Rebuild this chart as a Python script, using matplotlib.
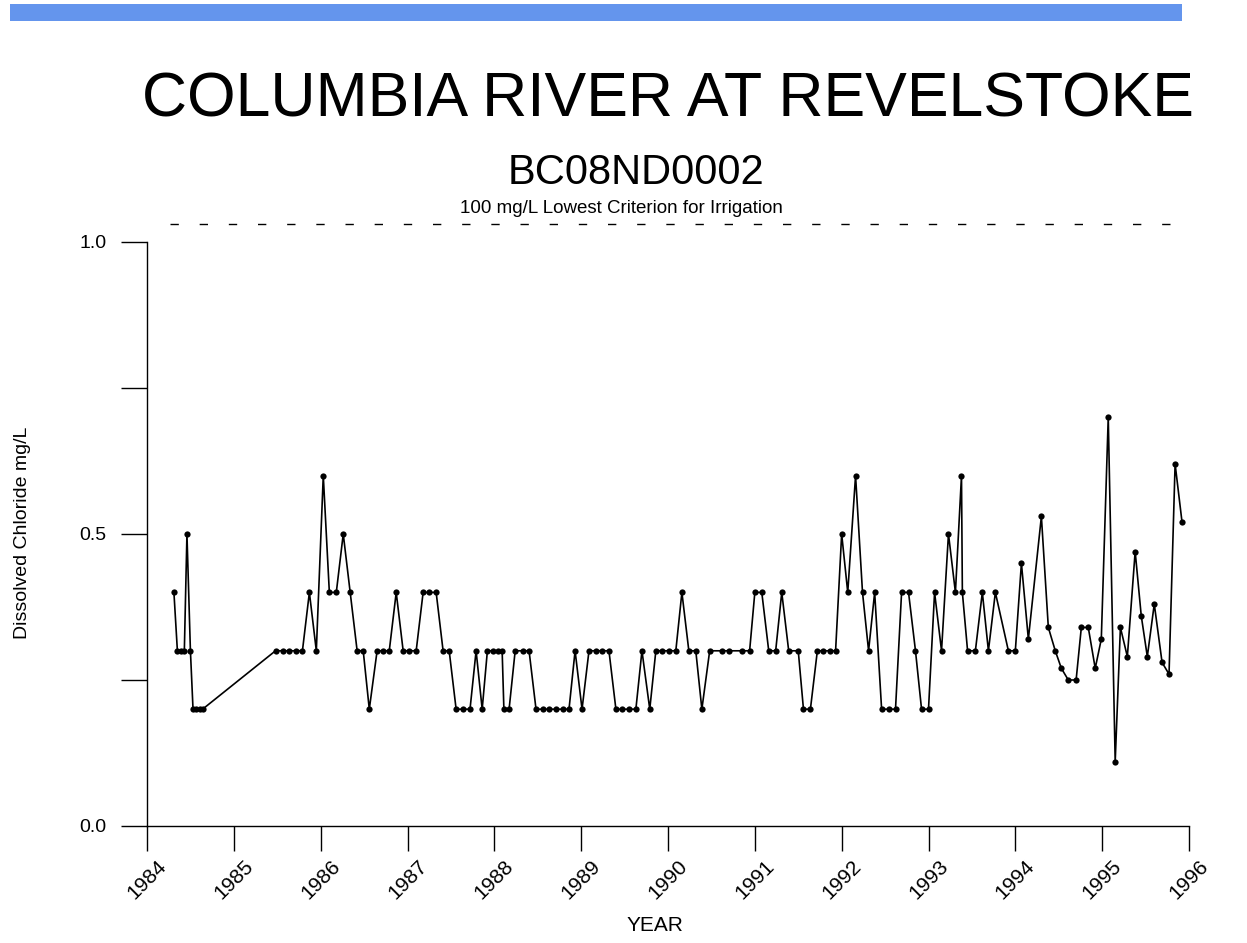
import matplotlib.pyplot as plt
from matplotlib.patches import Rectangle
from matplotlib.ticker import MultipleLocator

plt.rcParams["font.family"] = ["Liberation Sans", "DejaVu Sans"]

TITLE = "COLUMBIA RIVER AT REVELSTOKE"
STATION = "BC08ND0002"
CRITERION_TEXT = "100 mg/L Lowest Criterion for Irrigation"
CRITERION_LEVEL = 1.03

year = [
    1984.31, 1984.35, 1984.39, 1984.43, 1984.46, 1984.50, 1984.53, 1984.57, 1984.61, 1984.64,
    1985.48, 1985.57, 1985.64, 1985.72, 1985.79, 1985.87, 1985.95, 1986.03, 1986.10, 1986.18,
    1986.26, 1986.34, 1986.42, 1986.49, 1986.56, 1986.65, 1986.72, 1986.79, 1986.87, 1986.95,
    1987.02, 1987.10, 1987.18, 1987.25, 1987.33, 1987.41, 1987.48, 1987.56, 1987.64, 1987.72,
    1987.79, 1987.86, 1987.92, 1987.98, 1988.04, 1988.09, 1988.11, 1988.17, 1988.24, 1988.33,
    1988.40, 1988.48, 1988.56, 1988.63, 1988.71, 1988.79, 1988.86, 1988.93, 1989.01, 1989.09,
    1989.17, 1989.24, 1989.32, 1989.40, 1989.47, 1989.55, 1989.63, 1989.70, 1989.79, 1989.86,
    1989.93, 1990.01, 1990.09, 1990.16, 1990.24, 1990.32, 1990.39, 1990.48, 1990.62, 1990.70,
    1990.85, 1990.94, 1991.00, 1991.08, 1991.16, 1991.24, 1991.31, 1991.39, 1991.50, 1991.56,
    1991.64, 1991.72, 1991.79, 1991.86, 1991.93, 1992.00, 1992.07, 1992.16, 1992.24, 1992.31,
    1992.38, 1992.46, 1992.54, 1992.62, 1992.69, 1992.77, 1992.85, 1992.92, 1993.00, 1993.07,
    1993.15, 1993.23, 1993.31, 1993.38, 1993.39, 1993.45, 1993.54, 1993.62, 1993.69, 1993.77,
    1993.92, 1994.00, 1994.07, 1994.15, 1994.30, 1994.38, 1994.46, 1994.53, 1994.61, 1994.70,
    1994.76, 1994.84, 1994.92, 1994.99, 1995.07, 1995.15, 1995.21, 1995.29, 1995.38, 1995.45,
    1995.52, 1995.60, 1995.69, 1995.77, 1995.84, 1995.92,
]

chloride = [
    0.4, 0.3, 0.3, 0.3, 0.5, 0.3, 0.2, 0.2, 0.2, 0.2,
    0.3, 0.3, 0.3, 0.3, 0.3, 0.4, 0.3, 0.6, 0.4, 0.4,
    0.5, 0.4, 0.3, 0.3, 0.2, 0.3, 0.3, 0.3, 0.4, 0.3,
    0.3, 0.3, 0.4, 0.4, 0.4, 0.3, 0.3, 0.2, 0.2, 0.2,
    0.3, 0.2, 0.3, 0.3, 0.3, 0.3, 0.2, 0.2, 0.3, 0.3,
    0.3, 0.2, 0.2, 0.2, 0.2, 0.2, 0.2, 0.3, 0.2, 0.3,
    0.3, 0.3, 0.3, 0.2, 0.2, 0.2, 0.2, 0.3, 0.2, 0.3,
    0.3, 0.3, 0.3, 0.4, 0.3, 0.3, 0.2, 0.3, 0.3, 0.3,
    0.3, 0.3, 0.4, 0.4, 0.3, 0.3, 0.4, 0.3, 0.3, 0.2,
    0.2, 0.3, 0.3, 0.3, 0.3, 0.5, 0.4, 0.6, 0.4, 0.3,
    0.4, 0.2, 0.2, 0.2, 0.4, 0.4, 0.3, 0.2, 0.2, 0.4,
    0.3, 0.5, 0.4, 0.6, 0.4, 0.3, 0.3, 0.4, 0.3, 0.4,
    0.3, 0.3, 0.45, 0.32, 0.53, 0.34, 0.30, 0.27, 0.25, 0.25,
    0.34, 0.34, 0.27, 0.32, 0.70, 0.11, 0.34, 0.29, 0.47, 0.36,
    0.29, 0.38, 0.28, 0.26, 0.62, 0.52,
]

year_ticks = list(range(1984, 1997))

fig = plt.figure(figsize=(12.47, 9.43), dpi=100)

# blue banner strip at the top
fig.patches.append(
    Rectangle((10 / 1247, 1 - 21 / 943), 1172 / 1247, 17 / 943,
              transform=fig.transFigure, facecolor="#6495ED", edgecolor="none")
)

fig.text(0.536, 0.876, TITLE, ha="center", va="baseline", fontsize=45)
fig.text(0.510, 0.805, STATION, ha="center", va="baseline", fontsize=30)
fig.text(0.498, 0.774, CRITERION_TEXT, ha="center", va="baseline", fontsize=13.5)

ax = fig.add_axes([147 / 1247, 1 - 826 / 943, 1042 / 1247, 584 / 943])

ax.plot(year, chloride, color="black", linewidth=1.2,
        marker="o", markersize=4.5, markerfacecolor="black", markeredgewidth=0)

ax.plot([1984.26, 1995.87], [CRITERION_LEVEL, CRITERION_LEVEL], color="black",
        linewidth=1.0, linestyle=(0, (6, 15)), clip_on=False)

ax.set_xlim(1984, 1996)
ax.set_ylim(0, 1)
ax.set_xticks(year_ticks)
ax.set_xticklabels([str(y) for y in year_ticks], rotation=45, ha="center")
ax.set_yticks([0.0, 0.5, 1.0])
ax.set_yticklabels(["0.0", "0.5", "1.0"])
ax.yaxis.set_minor_locator(MultipleLocator(0.25))

ax.tick_params(axis="x", direction="out", length=18, width=1, pad=4, labelsize=15)
ax.tick_params(axis="y", which="both", direction="out", length=19, width=1, pad=10, labelsize=14)

for side in ["top", "right"]:
    ax.spines[side].set_visible(False)
for side in ["left", "bottom"]:
    ax.spines[side].set_linewidth(1.0)

fig.text(0.525, 0.019, "YEAR", ha="center", va="center", fontsize=15)
fig.text(0.018, 0.435, "Dissolved Chloride mg/L", ha="center", va="center",
         rotation=90, fontsize=14)

fig.savefig("out.png", dpi=100)
